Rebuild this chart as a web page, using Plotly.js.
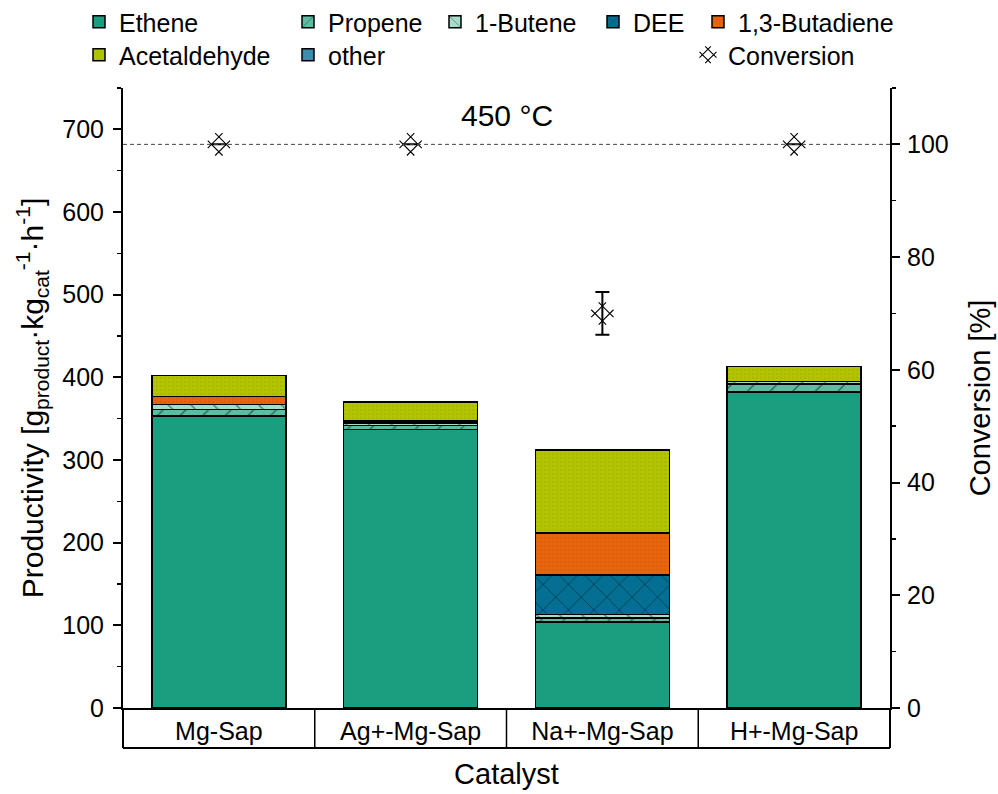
<!DOCTYPE html>
<html>
<head>
<meta charset="utf-8">
<script src="https://cdn.plot.ly/plotly-3.0.1.min.js"></script>
<style>
  html, body { margin: 0; padding: 0; background: #ffffff; }
  #chart { width: 998px; height: 794px; }
</style>
</head>
<body>
<div id="chart"></div>
<script>
// Catalysts on the category axis
const catalysts = ['Mg-Sap', 'Ag+-Mg-Sap', 'Na+-Mg-Sap', 'H+-Mg-Sap'];

// Productivity per product, g_product / (kg_cat h)
const ethene       = [353, 337, 104, 382];
const propene      = [8, 5, 5, 10];
const butene1      = [6, 2, 4, 3];
const dee          = [0, 2, 48, 0];
const butadiene13  = [10, 1, 51, 0];
const acetaldehyde = [25, 23, 100, 18];
const other        = [0, 0, 0, 0];

// Ethanol conversion, % (with standard deviation)
const conversion    = [100, 100, 70, 100];
const conversionErr = [null, null, 3.8, null];

const FONT = 'Liberation Sans, Arial, sans-serif';

// Plot area in pixels, used to place legend entries
const FIG_W = 998, FIG_H = 794;
const PLOT_L = 123, PLOT_W = 767, PLOT_T = 88, PLOT_H = 620;
const PLOT_B = PLOT_T + PLOT_H;
const px2x = p => (p - PLOT_L) / PLOT_W;
const px2y = p => (PLOT_B - p) / PLOT_H;

const outline = { color: '#000000', width: 1.5 };

function stackTrace(name, values, color, pattern, legendId) {
  return {
    type: 'bar',
    name: name,
    x: catalysts,
    y: values,
    legend: legendId,
    showlegend: true,
    marker: {
      color: color,
      line: outline,
      pattern: pattern
    },
    width: 0.7,
    hoverinfo: 'x+y+name'
  };
}

const traces = [
  stackTrace('Ethene', ethene, '#1b9e7f', { shape: '' }, 'legend'),
  stackTrace('Propene', propene, '#5dbca3',
    { shape: '/', bgcolor: '#5dbca3', fgcolor: '#000000', size: 16, solidity: 0.08, fillmode: 'overlay' }, 'legend2'),
  stackTrace('1-Butene', butene1, '#a6dccb',
    { shape: '\\', bgcolor: '#a6dccb', fgcolor: '#000000', size: 16, solidity: 0.08, fillmode: 'overlay' }, 'legend3'),
  stackTrace('DEE', dee, '#046f92',
    { shape: 'x', bgcolor: '#046f92', fgcolor: '#000000', size: 18, solidity: 0.08, fillmode: 'overlay' }, 'legend4'),
  stackTrace('1,3-Butadiene', butadiene13, '#e8650d',
    { shape: '.', bgcolor: '#e8650d', fgcolor: '#d2560a', size: 4, solidity: 0.3, fillmode: 'overlay' }, 'legend5'),
  stackTrace('Acetaldehyde', acetaldehyde, '#b2c400',
    { shape: '.', bgcolor: '#b2c400', fgcolor: '#9db000', size: 4, solidity: 0.3, fillmode: 'overlay' }, 'legend6'),
  stackTrace('other', other, '#3b8fb0',
    { shape: '.', bgcolor: '#3b8fb0', fgcolor: '#2c7b9a', size: 4, solidity: 0.3, fillmode: 'overlay' }, 'legend7'),
  {
    type: 'scatter',
    mode: 'markers',
    name: 'Conversion',
    x: catalysts,
    y: conversion,
    yaxis: 'y2',
    legend: 'legend8',
    showlegend: true,
    marker: {
      symbol: 'hash-open',
      angle: 45,
      size: 21,
      color: '#000000',
      line: { color: '#000000', width: 1.1 }
    },
    error_y: {
      type: 'data',
      array: conversionErr,
      visible: true,
      color: '#000000',
      thickness: 2,
      width: 7
    }
  }
];

function legendAt(textLeftPx, centerYPx) {
  return {
    x: px2x(textLeftPx - 40),
    y: px2y(centerYPx),
    xanchor: 'left',
    yanchor: 'middle',
    bgcolor: 'rgba(0,0,0,0)',
    borderwidth: 0,
    font: { family: FONT, size: 25, color: '#000000' }
  };
}

const ROW1 = 22, ROW2 = 55;

// Table-style frame under the category axis
const tableBottom = -40 / PLOT_H;
const tableShapes = [
  { type: 'line', xref: 'paper', yref: 'paper', x0: 0, x1: 1, y0: tableBottom, y1: tableBottom,
    line: { color: '#000000', width: 2 } },
  { type: 'line', xref: 'paper', yref: 'paper', x0: 0, x1: 0, y0: 0, y1: tableBottom,
    line: { color: '#000000', width: 2 } },
  { type: 'line', xref: 'paper', yref: 'paper', x0: 1, x1: 1, y0: 0, y1: tableBottom,
    line: { color: '#000000', width: 2 } }
];
for (let i = 0; i < catalysts.length - 1; i++) {
  tableShapes.push({ type: 'line', xref: 'x', yref: 'paper', x0: i + 0.5, x1: i + 0.5, y0: 0, y1: tableBottom,
    line: { color: '#000000', width: 1.5 } });
}

const layout = {
  width: FIG_W,
  height: FIG_H,
  margin: { l: PLOT_L, r: FIG_W - PLOT_L - PLOT_W, t: PLOT_T, b: FIG_H - PLOT_B, pad: 0, autoexpand: false },
  paper_bgcolor: '#ffffff',
  plot_bgcolor: '#ffffff',
  font: { family: FONT, size: 25, color: '#000000' },
  showlegend: true,
  barmode: 'stack',
  xaxis: {
    type: 'category',
    range: [-0.5, 3.5],
    showline: true, linecolor: '#000000', linewidth: 2,
    ticks: '', showgrid: false, zeroline: false,
    tickfont: { family: FONT, size: 25 },
    ticklabelstandoff: 0,
    automargin: false,
    title: { text: 'Catalyst', font: { family: FONT, size: 29 }, standoff: 20 }
  },
  yaxis: {
    range: [0, 750],
    dtick: 100,
    showline: true, linecolor: '#000000', linewidth: 2,
    ticks: 'outside', ticklen: 8, tickwidth: 2, tickcolor: '#000000',
    minor: { dtick: 50, ticks: 'outside', ticklen: 4, tickwidth: 1.5, tickcolor: '#000000' },
    showgrid: false, zeroline: false,
    tickfont: { family: FONT, size: 25 },
    ticklabelstandoff: 4,
    automargin: false,
    title: { text: 'Productivity [g<sub>product</sub>·kg<sub>cat</sub><sup>-1</sup>·h<sup>-1</sup>]',
             font: { family: FONT, size: 30 }, standoff: 10 }
  },
  yaxis2: {
    overlaying: 'y',
    side: 'right',
    range: [0, 110],
    dtick: 20,
    showline: true, linecolor: '#000000', linewidth: 2,
    ticks: 'outside', ticklen: 8, tickwidth: 2, tickcolor: '#000000',
    minor: { dtick: 10, ticks: 'outside', ticklen: 4, tickwidth: 1.5, tickcolor: '#000000' },
    showgrid: false, zeroline: false,
    tickfont: { family: FONT, size: 25 },
    ticklabelstandoff: 2,
    automargin: false,
    title: { text: 'Conversion [%]', font: { family: FONT, size: 29 }, standoff: 22 }
  },
  legend:  legendAt(119, ROW1),
  legend2: legendAt(328, ROW1),
  legend3: legendAt(475, ROW1),
  legend4: legendAt(633, ROW1),
  legend5: legendAt(738, ROW1),
  legend6: legendAt(119, ROW2),
  legend7: legendAt(328, ROW2),
  legend8: legendAt(728, ROW2),
  shapes: [
    // full-conversion reference line
    { type: 'line', xref: 'paper', yref: 'y2', x0: 0, x1: 1, y0: 100, y1: 100,
      line: { color: '#444444', width: 1, dash: '4px,3px' } }
  ].concat(tableShapes),
  annotations: [
    { text: '450 °C', xref: 'paper', yref: 'paper', x: 0.5, y: px2y(115),
      xanchor: 'center', yanchor: 'middle', showarrow: false,
      font: { family: FONT, size: 30, color: '#000000' } }
  ]
};

Plotly.newPlot('chart', traces, layout, { displayModeBar: false, staticPlot: true });
</script>
</body>
</html>
